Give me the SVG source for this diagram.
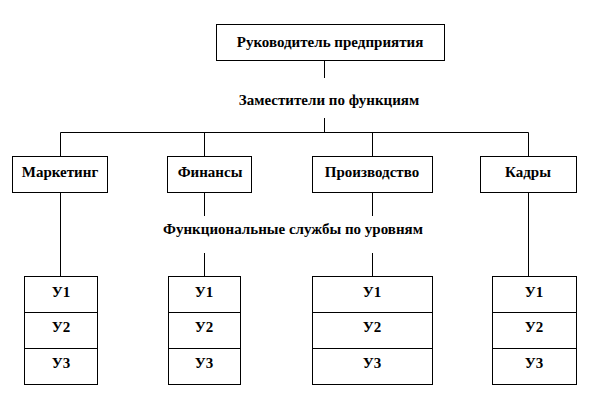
<svg xmlns="http://www.w3.org/2000/svg" width="612" height="408" viewBox="0 0 612 408">
<style>
.box{fill:#fff;stroke:#000;stroke-width:1}
.ln{fill:none;stroke:#000;stroke-width:1}
.t{font-family:'Liberation Serif','Times New Roman',Times,serif;font-weight:bold;font-size:15px;fill:#000;text-anchor:middle}
</style>
<rect width="612" height="408" fill="#fff"/>
<g id="connectors">
<path class="ln" d="M324.5 60V78M324.5 118V132.5M60.5 132.5H528.5M60.5 132.5V156M204.5 132.5V156M372.5 132.5V156M528.5 132.5V156M60.5 192V276M204.5 192V216M204.5 253V276M372.5 192V216M372.5 253V276M528.5 192V276"/>
</g>
<g class="t" font-family="Liberation Serif, serif">
<g id="head">
<rect class="box" x="216.5" y="24.5" width="228" height="36"/>
<text x="330" y="47">Руководитель предприятия</text>
</g>
<g id="label-deputies">
<text x="329" y="105">Заместители по функциям</text>
</g>
<g id="marketing">
<rect class="box" x="12.5" y="156.5" width="95" height="36"/>
<text x="60" y="177">Маркетинг</text>
</g>
<g id="finance">
<rect class="box" x="167.5" y="156.5" width="84" height="36"/>
<text x="210" y="177">Финансы</text>
</g>
<g id="production">
<rect class="box" x="312.5" y="156.5" width="120" height="36"/>
<text x="372" y="177">Производство</text>
</g>
<g id="kadry">
<rect class="box" x="480.5" y="156.5" width="96" height="36"/>
<text x="528" y="177">Кадры</text>
</g>
<g id="label-services">
<text x="293" y="234">Функциональные службы по уровням</text>
</g>
<g id="levels-marketing">
<rect class="box" x="24.5" y="276.5" width="73" height="108"/>
<path class="ln" d="M24.5 312.5H97.5M24.5 348.5H97.5"/>
<text x="61" y="297">У1</text><text x="61" y="332">У2</text><text x="61" y="368">У3</text>
</g>
<g id="levels-finance">
<rect class="box" x="168.5" y="276.5" width="72" height="108"/>
<path class="ln" d="M168.5 312.5H240.5M168.5 348.5H240.5"/>
<text x="204" y="297">У1</text><text x="204" y="332">У2</text><text x="204" y="368">У3</text>
</g>
<g id="levels-production">
<rect class="box" x="312.5" y="276.5" width="120" height="108"/>
<path class="ln" d="M312.5 312.5H432.5M312.5 348.5H432.5"/>
<text x="372" y="297">У1</text><text x="372" y="332">У2</text><text x="372" y="368">У3</text>
</g>
<g id="levels-kadry">
<rect class="box" x="492.5" y="276.5" width="84" height="108"/>
<path class="ln" d="M492.5 312.5H576.5M492.5 348.5H576.5"/>
<text x="534" y="297">У1</text><text x="534" y="332">У2</text><text x="534" y="368">У3</text>
</g>
</g>
</svg>
